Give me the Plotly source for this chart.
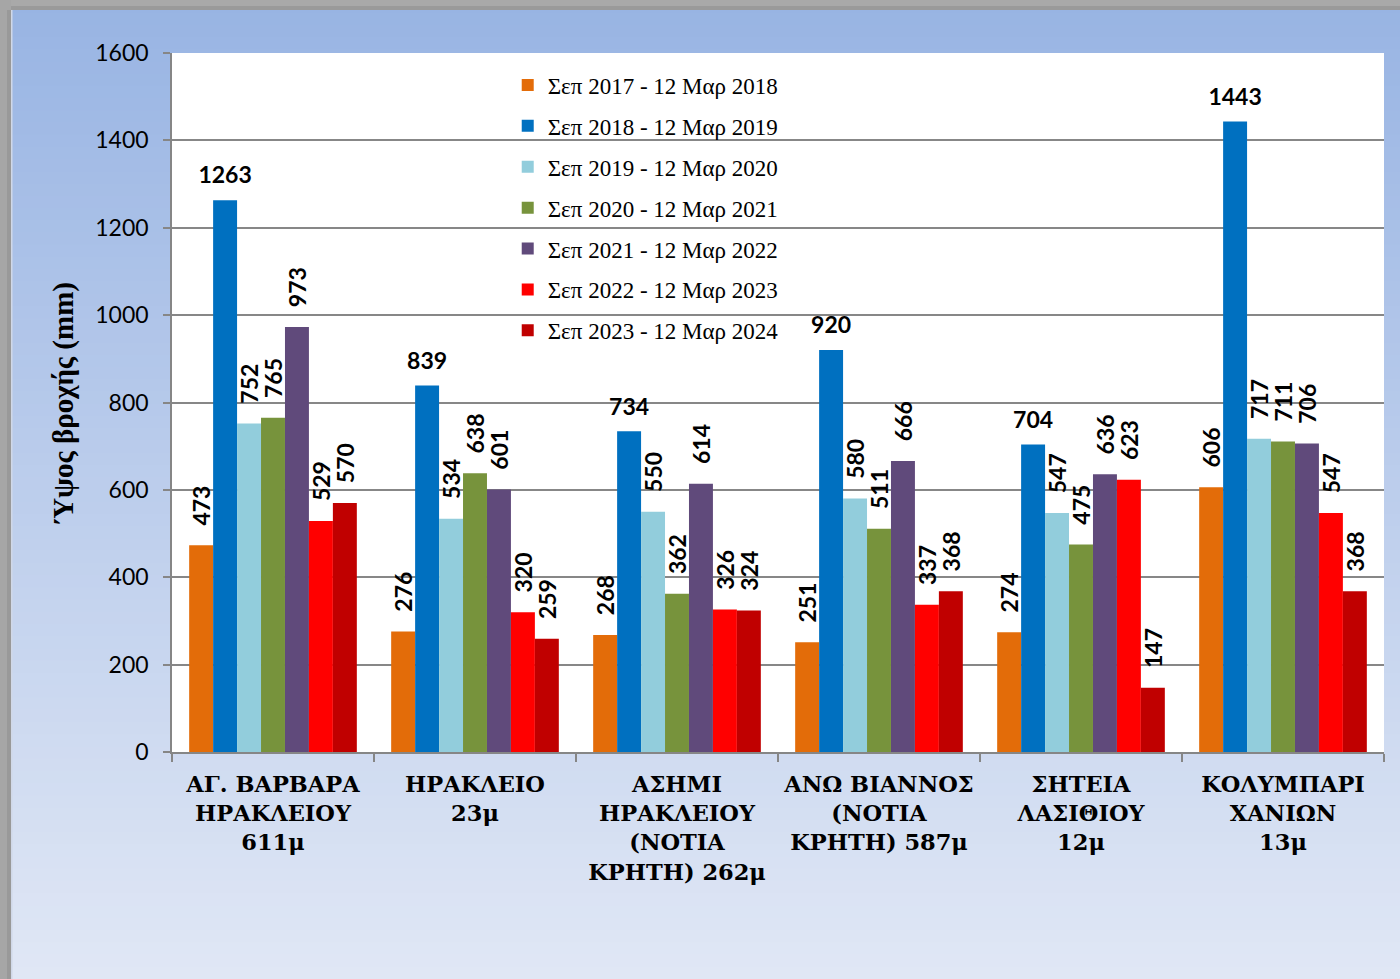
import plotly.graph_objects as go

categories = [
    "ΑΓ. ΒΑΡΒΑΡΑ<br>ΗΡΑΚΛΕΙΟΥ<br>611μ",
    "ΗΡΑΚΛΕΙΟ<br>23μ",
    "ΑΣΗΜΙ<br>ΗΡΑΚΛΕΙΟΥ<br>(ΝΟΤΙΑ<br>ΚΡΗΤΗ) 262μ",
    "ΑΝΩ ΒΙΑΝΝΟΣ<br>(ΝΟΤΙΑ<br>ΚΡΗΤΗ) 587μ",
    "ΣΗΤΕΙΑ<br>ΛΑΣΙΘΙΟΥ<br>12μ",
    "ΚΟΛΥΜΠΑΡΙ<br>ΧΑΝΙΩΝ<br>13μ",
]

series_names = [
    "Σεπ 2017 - 12 Μαρ 2018",
    "Σεπ 2018 - 12 Μαρ 2019",
    "Σεπ 2019 - 12 Μαρ 2020",
    "Σεπ 2020 - 12 Μαρ 2021",
    "Σεπ 2021 - 12 Μαρ 2022",
    "Σεπ 2022 - 12 Μαρ 2023",
    "Σεπ 2023 - 12 Μαρ 2024",
]

s2017 = [473, 276, 268, 251, 274, 606]
s2018 = [1263, 839, 734, 920, 704, 1443]
s2019 = [752, 534, 550, 580, 547, 717]
s2020 = [765, 638, 362, 511, 475, 711]
s2021 = [973, 601, 614, 666, 636, 706]
s2022 = [529, 320, 326, 337, 623, 547]
s2023 = [570, 259, 324, 368, 147, 368]

series_values = [s2017, s2018, s2019, s2020, s2021, s2022, s2023]
colors = ["#E36C09", "#0070C0", "#92CDDC", "#77933C", "#604A7B", "#FF0000", "#C00000"]

y_ticks = [0, 200, 400, 600, 800, 1000, 1200, 1400, 1600]

W, H = 1400, 979
ML, MR, MT, MB = 172, 16, 53, 227
PW, PH = W - ML - MR, H - MT - MB

LABEL_FONT = dict(family="Lato", size=23, color="black", weight="bold")
LABEL_GAP = 20  # extra gap (data units) above the horizontal labels

fig = go.Figure()
NB = "\u00a0"
for i, (name, vals, col) in enumerate(zip(series_names, series_values, colors)):
    horizontal = (i == 1)
    fig.add_trace(go.Bar(
        x=categories, y=vals, name=name,
        marker=dict(color=col, line=dict(width=0)),
        text=None if horizontal else [NB * 3 + str(v) for v in vals],
        textposition="outside",
        textangle=-90,
        constraintext="none",
        cliponaxis=False,
        textfont=LABEL_FONT,
        offsetgroup=str(i),
        legendgroup=f"g{i}",
        hoverinfo="skip",
    ))
    if horizontal:
        # transparent label carrier sitting on top of the blue bars
        fig.add_trace(go.Bar(
            x=categories, y=[LABEL_GAP] * len(vals), base=vals,
            marker=dict(color="rgba(0,0,0,0)", line=dict(width=0)),
            text=[str(v) for v in vals],
            textposition="outside", textangle=0,
            constraintext="none", cliponaxis=False,
            textfont=LABEL_FONT,
            offsetgroup=str(i), showlegend=False, hoverinfo="skip",
        ))

# background gradient
shapes = []
x0p, x1p = -ML / PW, 1 + MR / PW
top_c = (152, 180, 227)
bot_c = (224, 231, 245)
N = 80
for k in range(N):
    t = k / (N - 1)
    c = tuple(round(top_c[j] + (bot_c[j] - top_c[j]) * t) for j in range(3))
    ytop_px = k * H / N
    ybot_px = (k + 1) * H / N + 1
    y1 = 1 + (MT - ytop_px) / PH
    y0 = 1 + (MT - ybot_px) / PH
    shapes.append(dict(type="rect", xref="paper", yref="paper", x0=x0p, x1=x1p, y0=y0, y1=y1,
                       fillcolor="rgb(%d,%d,%d)" % c, line=dict(width=0), layer="below"))

def px_rect(xa, xb, ya, yb, color):
    return dict(type="rect", xref="paper", yref="paper",
                x0=(xa - ML) / PW, x1=(xb - ML) / PW,
                y0=1 + (MT - yb) / PH, y1=1 + (MT - ya) / PH,
                fillcolor=color, line=dict(width=0), layer="below")

shapes.append(px_rect(0, W, 0, 10, "#a9a9a9"))
shapes.append(px_rect(0, W, 6, 10, "#9a9a9a"))
shapes.append(px_rect(0, 11, 0, H, "#a6a6a6"))
shapes.append(px_rect(7, 11, 10, H, "#999999"))
shapes.append(px_rect(11, 12.5, 10, H, "#d0d8e8"))
shapes.append(dict(type="rect", xref="x domain", yref="y domain", x0=0, x1=1, y0=0, y1=1,
                   fillcolor="white", line=dict(width=0), layer="below"))

fig.update_layout(
    width=W, height=H,
    margin=dict(l=ML, r=MR, t=MT, b=MB, pad=0, autoexpand=False),
    paper_bgcolor="#e0e7f5",
    plot_bgcolor="rgba(0,0,0,0)",
    barmode="group",
    bargap=0.17,
    bargroupgap=0,
    shapes=shapes,
    showlegend=True,
    legend=dict(
        x=0.277, y=0.985, xanchor="left", yanchor="top",
        bgcolor="rgba(0,0,0,0)",
        font=dict(family="Liberation Serif", size=23, color="black"),
        traceorder="grouped", tracegroupgap=8,
    ),
    xaxis=dict(
        showgrid=False, showline=True, linecolor="#868686", linewidth=1.5,
        ticks="outside", tickson="boundaries", ticklen=8, tickcolor="#868686", tickwidth=1.5,
        tickfont=dict(family="DejaVu Serif", size=22.5, color="black", weight="bold"),
        tickangle=0, automargin=False,
        ticklabelstandoff=11,
    ),
    yaxis=dict(
        range=[0, 1600], tickvals=y_ticks, showgrid=True, gridcolor="#878787", gridwidth=1.5,
        showline=True, linecolor="#868686", linewidth=1.5,
        ticks="outside", ticklen=7, tickcolor="#868686", tickwidth=1.5,
        tickfont=dict(family="Lato", size=23, color="black"),
        ticklabelstandoff=10, automargin=False,
        title=dict(text="Ύψος βροχής (mm)",
                   font=dict(family="Liberation Serif", size=29, color="black", weight="bold"),
                   standoff=13),
        zeroline=False,
    ),
)

fig.write_html("out.html", post_script="document.body.style.margin='0';",
               config={"displayModeBar": False})
